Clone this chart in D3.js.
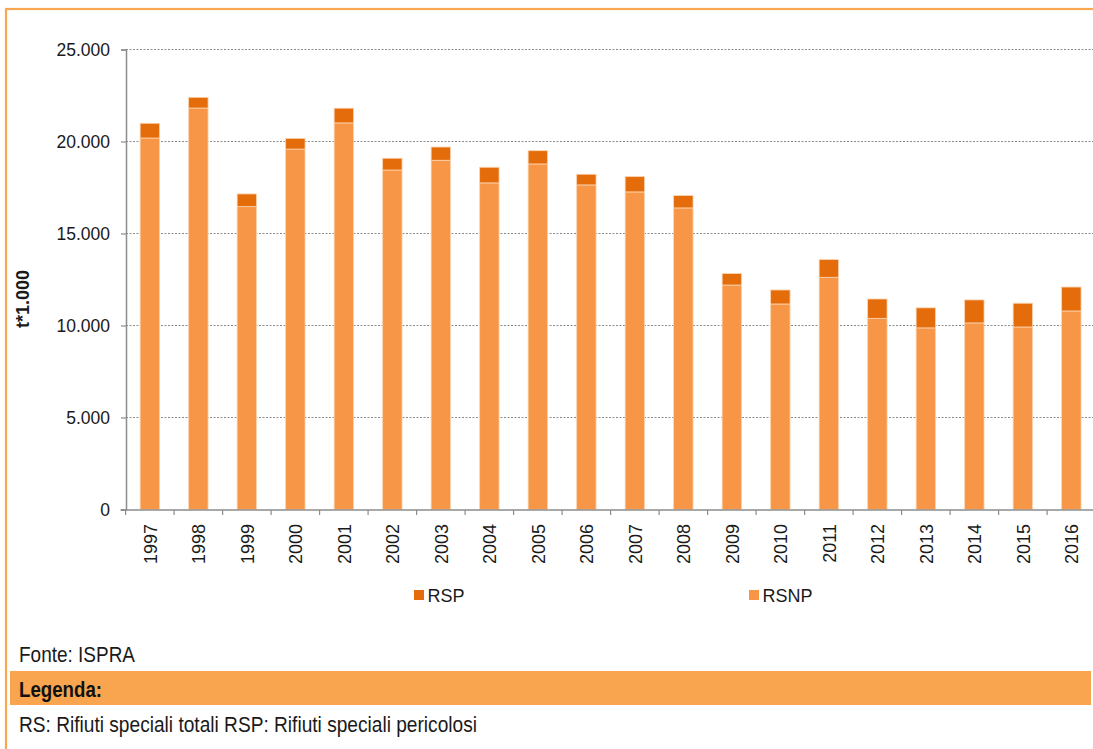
<!DOCTYPE html>
<html>
<head>
<meta charset="utf-8">
<script src="https://cdn.jsdelivr.net/npm/d3@7"></script>
<style>
  html, body { margin: 0; padding: 0; background: #fff; overflow: hidden; }
  svg { display: block; font-family: "Liberation Sans", Arial, sans-serif; }
</style>
</head>
<body>
<svg id="chart" width="1093" height="749"></svg>
<script>
const years = ["1997","1998","1999","2000","2001","2002","2003","2004","2005","2006",
               "2007","2008","2009","2010","2011","2012","2013","2014","2015","2016"];
const rsnp = [20190, 21820, 16460, 19590, 21010, 18450, 18980, 17750, 18780, 17640,
              17260, 16390, 12200, 11170, 12620, 10390, 9870, 10140, 9920, 10790];
const rsp  = [800, 580, 690, 580, 800, 640, 720, 850, 720, 580,
              830, 670, 620, 760, 960, 1050, 1090, 1250, 1290, 1300];
const yTicks = [0, 5000, 10000, 15000, 20000, 25000];
const seriesNames = ["RSP", "RSNP"];
const colors = { RSNP: "#f79646", RSP: "#e46c0a" };

const svg = d3.select("#chart");

// outer frame (left and top edges visible; right/bottom lie outside the picture)
svg.append("rect").attr("x", 6).attr("y", 9).attr("width", 1120).attr("height", 780)
  .attr("fill", "none").attr("stroke", "#f9a852").attr("stroke-width", 2.2);

const x = d3.scaleBand().domain(years).range([125.6, 1095.6]).paddingInner(0.6).paddingOuter(0.3);
const y = d3.scaleLinear().domain([0, 25000]).range([509.5, 49.5]);

// gridlines
svg.append("g").selectAll("line").data(yTicks.filter(d => d > 0)).join("line")
  .attr("x1", 126).attr("x2", 1093)
  .attr("y1", d => y(d)).attr("y2", d => y(d))
  .attr("stroke", "#8c8c8c").attr("stroke-width", 1).attr("stroke-dasharray", "2,1.5");

// stacked bars
const table = years.map((yr, i) => ({ year: yr, RSNP: rsnp[i], RSP: rsp[i] }));
const stack = d3.stack().keys(["RSNP", "RSP"])(table);
svg.append("g").selectAll("g").data(stack).join("g")
  .attr("fill", d => colors[d.key])
  .selectAll("rect").data(d => d).join("rect")
  .attr("x", d => x(d.data.year))
  .attr("width", x.bandwidth())
  .attr("y", d => y(d[1]))
  .attr("height", d => y(d[0]) - y(d[1]))
  .attr("stroke", "#fbd3b0").attr("stroke-width", 0.8);

// y axis
const yAxis = d3.axisLeft(y).tickValues(yTicks).tickSize(5).tickPadding(11)
  .tickFormat(d => d === 0 ? "0" : d3.format(",")(d).replace(/,/g, "."));
const ya = svg.append("g").attr("transform", "translate(126,0)").call(yAxis);
ya.select(".domain").attr("stroke", "#8c8c8c").attr("stroke-width", 1.5);
ya.selectAll(".tick line").attr("stroke", "#8c8c8c").attr("stroke-width", 1.2);
ya.selectAll("text").attr("font-size", 17.5).attr("fill", "#1a1a1a")
  .attr("font-family", "Liberation Sans, Arial, sans-serif");

// x axis
svg.append("line").attr("x1", 120.5).attr("x2", 1093).attr("y1", 510).attr("y2", 510)
  .attr("stroke", "#8c8c8c").attr("stroke-width", 1.5);
const bounds = d3.range(years.length + 1).map(i => x.range()[0] + i * x.step());
svg.append("g").selectAll("line").data(bounds).join("line")
  .attr("x1", d => d).attr("x2", d => d).attr("y1", 510).attr("y2", 515)
  .attr("stroke", "#8c8c8c").attr("stroke-width", 1.2);
svg.append("g").selectAll("text").data(years).join("text")
  .attr("transform", d => `translate(${x(d) + x.bandwidth() / 2 + 7},524) rotate(-90)`)
  .attr("text-anchor", "end").attr("font-size", 18).attr("fill", "#1a1a1a")
  .text(d => d);

// y label
svg.append("text").attr("transform", "translate(29,299) rotate(-90)")
  .attr("text-anchor", "middle").attr("font-size", 18).attr("font-weight", "bold")
  .attr("fill", "#1a1a1a").text("t*1.000");

// legend
const legendPos = { RSP: 414, RSNP: 749 };
const lg = svg.append("g").selectAll("g").data(seriesNames).join("g")
  .attr("transform", d => `translate(${legendPos[d]},590)`);
lg.append("rect").attr("width", 10).attr("height", 10).attr("fill", d => colors[d]);
lg.append("text").attr("x", 13.5).attr("y", 11.5).attr("font-size", 18).attr("fill", "#1a1a1a").text(d => d);

// footer
svg.append("text").attr("x", 19).attr("y", 661.5).attr("font-size", 22)
  .attr("textLength", 116).attr("lengthAdjust", "spacingAndGlyphs")
  .attr("fill", "#1a1a1a").text("Fonte: ISPRA");
svg.append("rect").attr("x", 10).attr("y", 671).attr("width", 1081).attr("height", 34)
  .attr("fill", "#f9a54f");
svg.append("text").attr("x", 19).attr("y", 696.5).attr("font-size", 22).attr("font-weight", "bold")
  .attr("textLength", 83).attr("lengthAdjust", "spacingAndGlyphs")
  .attr("fill", "#111").text("Legenda:");
svg.append("text").attr("x", 19).attr("y", 731.5).attr("font-size", 22)
  .attr("textLength", 458).attr("lengthAdjust", "spacingAndGlyphs")
  .attr("fill", "#1a1a1a").text("RS: Rifiuti speciali totali RSP: Rifiuti speciali pericolosi");
</script>
</body>
</html>
